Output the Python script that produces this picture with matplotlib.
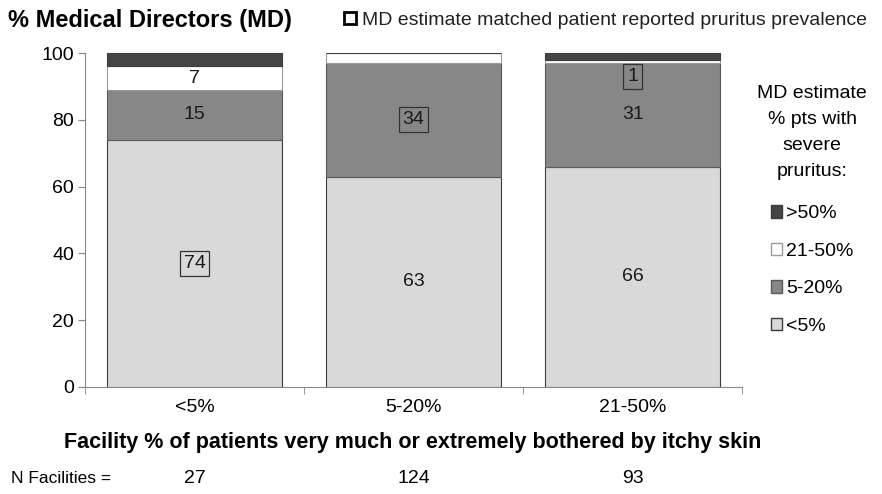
import numpy as np
from matplotlib import pyplot as plt
from matplotlib.patches import Patch, Rectangle

plt.rcParams['font.family'] = ['Liberation Sans', 'DejaVu Sans']

categories = ['<5%', '5-20%', '21-50%']
n_facilities = [27, 124, 93]
series_names = ['<5%', '5-20%', '21-50%', '>50%']
lt5 = [74, 63, 66]
p5_20 = [15, 34, 31]
p21_50 = [7, 3, 1]
gt50 = [4, 0, 2]
# which label gets a box (MD estimate matched patient reported prevalence)
matched = {(0, 0), (1, 1), (2, 2)}

colors = ['#d9d9d9', '#878787', '#ffffff', '#454545']
edges = ['#3c3c3c', '#5a5a5a', '#9a9a9a', '#3c3c3c']

fig = plt.figure(figsize=(8.82, 4.94), dpi=100)
ax = fig.add_axes([0.0964, 0.2166, 0.745, 0.676])

x = np.arange(len(categories))
series = [lt5, p5_20, p21_50, gt50]
bottom = np.zeros(len(categories))
for i, vals in enumerate(series):
    vals = np.array(vals, dtype=float)
    ax.bar(x, vals, 0.8, bottom=bottom, color=colors[i], edgecolor=edges[i],
           linewidth=0.8, label=series_names[i], zorder=2)
    for j, v in enumerate(vals):
        if i == 3 or v == 0:
            continue
        if i == 2 and v < 5 and (j, i) not in matched:
            continue
        yc = bottom[j] + v / 2
        if i == 2 and v < 3:
            yc = bottom[j] - 4
        bb = None
        if (j, i) in matched:
            bb = dict(boxstyle='square,pad=0.2', facecolor='none',
                      edgecolor='#333333', linewidth=0.9)
        ax.text(x[j], yc, str(int(v)), ha='center', va='center',
                fontsize=14, color='#1a1a1a', bbox=bb, zorder=4)
    bottom += vals

ax.set_xlim(-0.5, 2.5)
ax.set_ylim(0, 100)
ax.set_yticks([0, 20, 40, 60, 80, 100])
ax.set_xticks(x)
ax.set_xticklabels(categories)
ax.set_xticks([-0.5, 0.5, 1.5, 2.5], minor=True)
ax.tick_params(axis='x', which='major', length=0, pad=9, labelsize=14)
ax.tick_params(axis='x', which='minor', length=5, color='#888888')
ax.tick_params(axis='y', length=5, color='#888888', labelsize=14, pad=3)
for s in ['top', 'right']:
    ax.spines[s].set_visible(False)
ax.spines['left'].set_color('#888888')
ax.spines['bottom'].set_color('#888888')

handles = [Patch(facecolor=colors[i], edgecolor=edges[i], label=series_names[i])
           for i in [3, 2, 1, 0]]
leg = ax.legend(handles=handles, loc='upper center',
                bbox_to_anchor=(812 / 882, 1 - 85 / 494), bbox_transform=fig.transFigure,
                frameon=False, fontsize=14, handlelength=0.6, handleheight=0.6,
                handletextpad=0.2, labelspacing=1.05, borderpad=0, borderaxespad=0,
                title='MD estimate\n% pts with\nsevere\npruritus:',
                title_fontsize=14)
leg.get_title().set_multialignment('center')
leg.get_title().set_linespacing(1.7)
leg._legend_handle_box.sep = 0
leg._legend_box.sep = 18

fig.text(0.009, 0.958, '% Medical Directors (MD)', fontsize=17,
         fontweight='bold', va='center')
fig.patches.append(Rectangle((344 / 882, 1 - 24 / 494), 12 / 882, 12 / 494,
                             transform=fig.transFigure,
                             facecolor='white', edgecolor='black', linewidth=2))
fig.text(362 / 882, 0.958, 'MD estimate matched patient reported pruritus prevalence',
         fontsize=14, va='center', color='#222222')

fig.text(0.468, 1 - 442 / 494,
         'Facility % of patients very much or extremely bothered by itchy skin',
         fontsize=15.5, fontweight='bold', ha='center', va='center')
fig.text(0.012, 1 - 478 / 494, 'N Facilities =', fontsize=12.5, va='center')
for j, n in enumerate(n_facilities):
    xf = ax.transData.transform((x[j], 0))[0] / fig.bbox.width
    fig.text(xf, 1 - 478 / 494, str(n), fontsize=14, ha='center', va='center')

fig.savefig('out.png', dpi=100)
